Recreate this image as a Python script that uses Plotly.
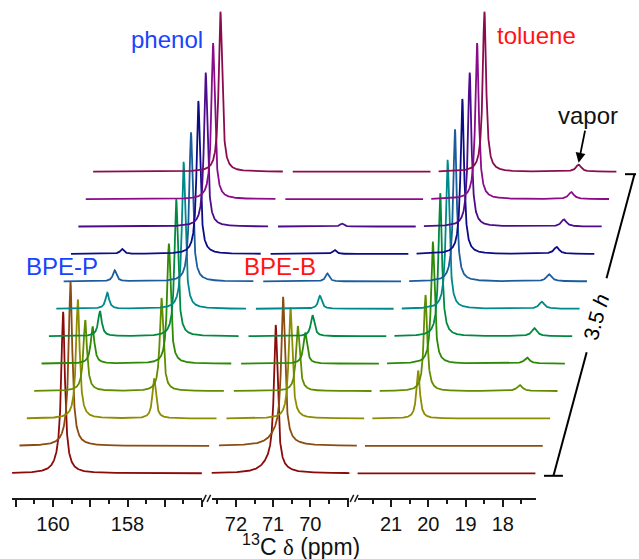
import numpy as np
import plotly.graph_objects as go

# ---------------- data ----------------
# 12 spectra recorded over 3.5 h (first spectrum at the bottom)
row_colors = ["#8b0a0a", "#8b4c10", "#8e8c00", "#628c00", "#2c8a05", "#008a40",
              "#00898a", "#1b5c9c", "#0c0c86", "#4c0c8c", "#8a0c8a", "#8a0c50"]

# broken chemical-shift axis: three segments (ppm)
seg_ppm_start = [161.1, 72.65, 21.9]
seg_ppm_end = [156.0, 68.95, 17.12]
seg_major_ticks = [[161, 160, 159, 158, 157, 156], [72, 71, 70, 69], [21, 20, 19, 18]]
seg_major_text = [[" ", "160", " ", "158", " ", " "], ["72", "71", "70", " "], ["21", "20", "19", "18"]]
seg_minor_ticks = [[160.5, 159.5, 158.5, 157.5, 156.5], [72.5, 71.5, 70.5, 69.5],
                   [21.5, 20.5, 19.5, 18.5, 17.5]]

# resonances (ppm), half widths (ppm) and heights (a.u.) per spectrum, bottom -> top
peak_names = ["BPE-P", "phenol", "BPE-B", "toluene", "vapor"]
peak_ppm = [159.73, 157.68, 70.93, 20.67, 18.14]
peak_hwhm = [0.058, 0.055, 0.058, 0.055, 0.085]
bpe_p_height = [153, 159, 119, 71, 37, 25, 16, 11, 5, 0, 0, 0]
phenol_height = [0, 0, 40, 93, 120, 137, 147, 149, 153, 154, 156, 160]
bpe_b_height = [141, 141, 111, 65, 31, 21, 13, 8, 4, 3, 0, 0]
toluene_height = [0, 0, 48, 96, 122, 143, 149, 152, 155, 154, 156, 160]
vapor_height = [0, 0, 0, 6, 6, 8, 7, 7, 7, 7, 7, 7]
peak_heights = [bpe_p_height, phenol_height, bpe_b_height, toluene_height, vapor_height]

# broad underlying components visible in the first spectra
broad_ppm = [159.80, 71.08]
broad_hwhm = [0.17, 0.25]
broad_p_height = [10, 6, 0, 0, 0, 0, 0, 0, 0, 0, 0, 0]
broad_b_height = [10, 11, 0, 0, 0, 0, 0, 0, 0, 0, 0, 0]
broad_heights = [broad_p_height, broad_b_height]

# ---------------- geometry / style ----------------
W, H = 639, 559
PX_PER_PPM = 37.4
SEG_X0 = [12.16, 212.7, 359.3]      # left edge of each axis segment (px)
ROW_DX, ROW_DY = 7.4, 27.42          # stacking offset per spectrum
ROW0_Y = H - 473.3                   # baseline of first spectrum
AXIS_Y = H - 498.3                   # position of the ppm axis
FONT = "Liberation Sans, Arial, sans-serif"


def to_u(ppm, s):
    return SEG_X0[s] + (seg_ppm_start[s] - np.asarray(ppm)) * PX_PER_PPM


def seg_end_u(s):
    return SEG_X0[s] + (seg_ppm_start[s] - seg_ppm_end[s]) * PX_PER_PPM


fig = go.Figure()

for k, col in enumerate(row_colors):
    xs, ys = [], []
    for s in range(3):
        hi, lo = seg_ppm_start[s], seg_ppm_end[s]
        grid = np.arange(hi, lo, -0.004)
        extra = [p for p in peak_ppm + broad_ppm if lo < p < hi]
        grid = np.union1d(grid, extra)[::-1]
        inten = np.zeros_like(grid)
        for p, w, hts in zip(peak_ppm, peak_hwhm, peak_heights):
            if lo < p < hi and hts[k] > 0:
                inten += hts[k] / (1 + ((grid - p) / w) ** 2)
        for p, w, hts in zip(broad_ppm, broad_hwhm, broad_heights):
            if lo < p < hi and hts[k] > 0:
                inten += hts[k] / (1 + ((grid - p) / w) ** 2)
        xs.extend(list(to_u(grid, s) + k * ROW_DX))
        ys.extend(list(ROW0_Y + k * ROW_DY + inten))
        xs.append(None)
        ys.append(None)
    fig.add_trace(go.Scatter(x=xs, y=ys, mode="lines",
                             line=dict(color=col, width=1.8),
                             hoverinfo="skip", showlegend=False,
                             xaxis="x", yaxis="y"))

# invisible traces so that the three ppm axis segments are drawn
for s in range(3):
    fig.add_trace(go.Scatter(x=[seg_ppm_start[s], seg_ppm_end[s]], y=[0.5, 0.5],
                             mode="lines", line=dict(color="rgba(0,0,0,0)"),
                             hoverinfo="skip", showlegend=False,
                             xaxis=f"x{s + 2}", yaxis="y2"))

layout = dict(
    width=W, height=H, margin=dict(l=0, r=0, t=0, b=0),
    paper_bgcolor="white", plot_bgcolor="rgba(0,0,0,0)",
    showlegend=False,
    xaxis=dict(domain=[0, 1], range=[0, W], visible=False, fixedrange=True),
    yaxis=dict(domain=[0, 1], range=[0, H], visible=False, fixedrange=True),
    yaxis2=dict(domain=[AXIS_Y / H, 1], range=[0, 1], visible=False, anchor="x2",
                fixedrange=True),
)
for s in range(3):
    layout[f"xaxis{s + 2}"] = dict(
        domain=[SEG_X0[s] / W, seg_end_u(s) / W],
        range=[seg_ppm_start[s], seg_ppm_end[s]],
        anchor="y2", showgrid=False, zeroline=False,
        showline=True, linewidth=1.5, linecolor="#1a1a1a",
        tickmode="array", tickvals=seg_major_ticks[s], ticktext=seg_major_text[s],
        ticks="outside", ticklen=7, tickwidth=1.5, tickcolor="#1a1a1a",
        tickfont=dict(family=FONT, size=20, color="#111111"),
        minor=dict(tickmode="array", tickvals=seg_minor_ticks[s], ticks="outside",
                   ticklen=4, tickwidth=1.5, tickcolor="#1a1a1a"),
        fixedrange=True,
    )
fig.update_layout(**layout)

# axis-break marks
shapes = []
for s in range(2):
    ue = seg_end_u(s)
    for off in (0.8, 5.2):
        shapes.append(dict(type="line", xref="x", yref="y",
                           x0=ue + off, y0=AXIS_Y - 3.5, x1=ue + off + 3.5, y1=AXIS_Y + 3.5,
                           line=dict(color="#1a1a1a", width=1.5)))

# time bracket (3.5 h) along the stacking direction
bx0 = seg_end_u(2) + 18
by0 = ROW0_Y - 2.5
bx1 = bx0 + 11 * ROW_DX
by1 = ROW0_Y + 11 * ROW_DY - 2.5
t_lo, t_hi, t_mid = 0.41, 0.655, 0.525
for a, b in ((0, t_lo), (t_hi, 1)):
    shapes.append(dict(type="line", xref="x", yref="y",
                       x0=bx0 + a * (bx1 - bx0), y0=by0 + a * (by1 - by0),
                       x1=bx0 + b * (bx1 - bx0), y1=by0 + b * (by1 - by0),
                       line=dict(color="black", width=2)))
for cx, cy in ((bx0, by0), (bx1, by1)):
    shapes.append(dict(type="line", xref="x", yref="y",
                       x0=cx - 9.5, y0=cy, x1=cx + 9.5, y1=cy,
                       line=dict(color="black", width=2)))
fig.update_layout(shapes=shapes)

ang = np.degrees(np.arctan2(by1 - by0, bx1 - bx0))
annotations = [
    dict(x=bx0 + t_mid * (bx1 - bx0), y=by0 + t_mid * (by1 - by0), xref="x", yref="y",
         text="3.5 <i>h</i>", showarrow=False, textangle=-ang,
         font=dict(family=FONT, size=21, color="black")),
    dict(x=168, y=H - 39, xref="x", yref="y", text="phenol", showarrow=False,
         font=dict(family=FONT, size=24, color="#1a43ff")),
    dict(x=539.5, y=H - 35.5, xref="x", yref="y", text="toluene", showarrow=False,
         font=dict(family=FONT, size=24, color="#ff1414")),
    dict(x=62.5, y=H - 266, xref="x", yref="y", text="BPE-P", showarrow=False,
         font=dict(family=FONT, size=24, color="#1a43ff")),
    dict(x=281, y=H - 266, xref="x", yref="y", text="BPE-B", showarrow=False,
         font=dict(family=FONT, size=24, color="#ff1414")),
    dict(x=to_u(peak_ppm[4], 2) + 11 * ROW_DX, y=ROW0_Y + 11 * ROW_DY + 9,
         xref="x", yref="y", text="vapor", showarrow=True,
         ax=9.5, ay=-47, arrowhead=2, arrowsize=1.1, arrowwidth=1.8, arrowcolor="black",
         standoff=0, font=dict(family=FONT, size=24, color="#111111")),
    dict(x=302, y=H - 545, xref="x", yref="y",
         text="<sup>13</sup>C <span style='font-family:Liberation Serif'>δ</span> (ppm)",
         showarrow=False, font=dict(family=FONT, size=23, color="#111111")),
]
fig.update_layout(annotations=annotations)

fig.write_html("out.html")
